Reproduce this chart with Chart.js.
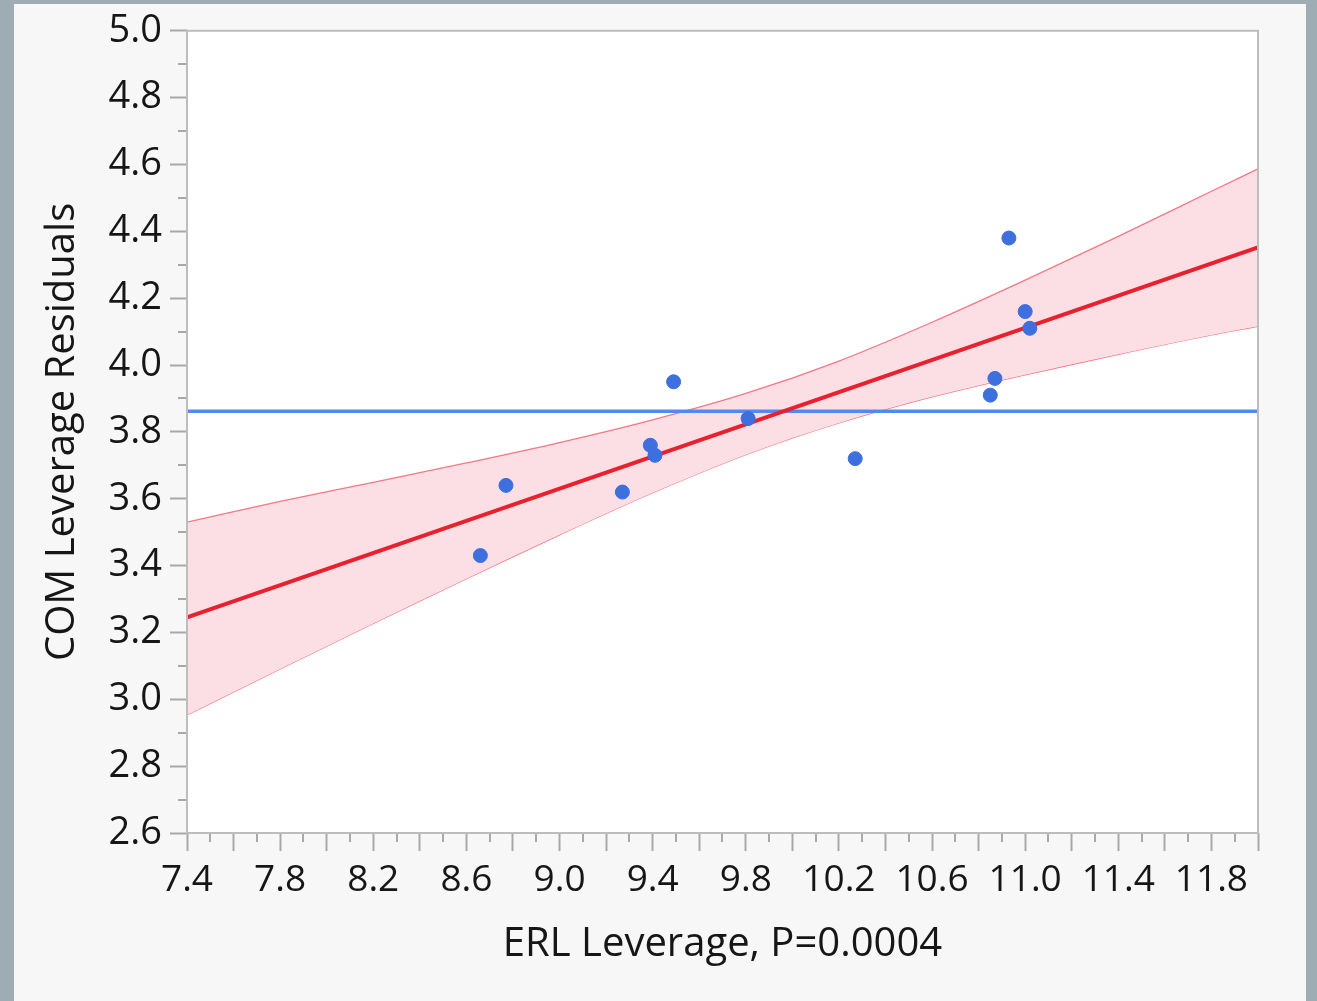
<!DOCTYPE html>
<html>
<head>
<meta charset="utf-8">
<script src="https://cdn.jsdelivr.net/npm/chart.js@4.4.1/dist/chart.umd.min.js"></script>
<style>
  body { margin: 0; background: #9dadb3; }
  #panel { position: absolute; left: 14px; top: 4px; width: 1292px; height: 997px; background: #f7f7f7; }
  #myChart { position: absolute; left: 0; top: 0; }
</style>
</head>
<body>
<div id="panel"></div>
<canvas id="myChart" width="1317" height="1001"></canvas>
<script>
// puntos (ERL leverage vs COM leverage residuals)
const erlX = [8.66, 8.77, 9.27, 9.39, 9.41, 9.49, 9.81, 10.27, 10.85, 10.87, 10.93, 11.00, 11.02];
const comY = [3.43, 3.64, 3.62, 3.76, 3.73, 3.95, 3.84, 3.72, 3.91, 3.96, 4.38, 4.16, 4.11];

// linea de la media
const meanY = 3.862;

// recta ajustada
const fitX = [7.4, 12.0];
const fitY = [3.245, 4.352];

// banda de confianza
const bandX = [7.4, 7.8, 8.2, 8.6, 9.0, 9.4, 9.8, 10.2, 10.6, 11.0, 11.4, 11.8, 12.0];
const bandUpper = [3.530, 3.592, 3.649, 3.707, 3.768, 3.836, 3.915, 4.012, 4.128, 4.254, 4.385, 4.520, 4.587];
const bandLower = [2.953, 3.091, 3.227, 3.361, 3.492, 3.618, 3.732, 3.827, 3.905, 3.971, 4.032, 4.090, 4.116];

// etiquetas de los ejes
const xTickLabels = ['7.4', '7.8', '8.2', '8.6', '9.0', '9.4', '9.8', '10.2', '10.6', '11.0', '11.4', '11.8'];
const yTickLabels = ['2.6', '2.8', '3.0', '3.2', '3.4', '3.6', '3.8', '4.0', '4.2', '4.4', '4.6', '4.8', '5.0'];

const toPts = (xs, ys) => xs.map((x, i) => ({ x: x, y: ys[i] }));

const FONT = "'Open Sans', 'Noto Sans', sans-serif";
const textColor = '#161616';
const tickGrey = '#a8a8a8';

// ticks cada 0.2 (los menores de 0.1 los pinta el plugin)
function majorTicks(min, max) {
  const out = [];
  for (let i = 0; min + i * 0.2 <= max + 1e-9; i++) {
    out.push({ value: Math.round((min + i * 0.2) * 10) / 10 });
  }
  return out;
}

//plugin para fondo blanco, marco y ticks menores
const framePlugin = {
  id: 'framePlugin',
  beforeDraw(chart) {
    const { ctx, chartArea: a } = chart;
    ctx.save();
    ctx.fillStyle = '#ffffff';
    ctx.fillRect(a.left, a.top, a.right - a.left, a.bottom - a.top);
    ctx.restore();
  },
  afterDraw(chart) {
    const { ctx, chartArea: a } = chart;
    const xs = chart.scales.x, ys = chart.scales.y;
    ctx.save();
    ctx.strokeStyle = tickGrey;
    ctx.lineWidth = 2;
    ctx.beginPath();
    for (let v = 7.5; v < 12.0; v += 0.2) {
      const px = Math.round(xs.getPixelForValue(v));
      ctx.moveTo(px, a.bottom);
      ctx.lineTo(px, a.bottom + 9);
    }
    for (let v = 2.7; v < 5.0; v += 0.2) {
      const py = Math.round(ys.getPixelForValue(v));
      ctx.moveTo(a.left, py);
      ctx.lineTo(a.left - 9, py);
    }
    ctx.stroke();
    ctx.strokeStyle = '#bdbdbd';
    ctx.lineWidth = 2;
    ctx.strokeRect(a.left, a.top, a.right - a.left, a.bottom - a.top);
    ctx.restore();
  }
};

const ctx = document.getElementById('myChart');
new Chart(ctx, {
  type: 'scatter',
  data: {
    datasets: [
      {
        label: 'puntos',
        data: toPts(erlX, comY),
        backgroundColor: '#3d6fde',
        borderColor: '#3d6fde',
        pointRadius: 7,
        order: 0
      },
      {
        label: 'ajuste',
        data: toPts(fitX, fitY),
        showLine: true,
        borderColor: '#e8212f',
        borderWidth: 4,
        pointRadius: 0,
        order: 1
      },
      {
        label: 'media',
        data: toPts([7.4, 12.0], [meanY, meanY]),
        showLine: true,
        borderColor: '#5289f5',
        borderWidth: 3.5,
        pointRadius: 0,
        order: 2
      },
      {
        label: 'superior',
        data: toPts(bandX, bandUpper),
        showLine: true,
        borderColor: 'rgba(238, 100, 115, 0.85)',
        borderWidth: 1.3,
        backgroundColor: '#fcdfe4',
        fill: '+1',
        pointRadius: 0,
        cubicInterpolationMode: 'monotone',
        order: 3
      },
      {
        label: 'inferior',
        data: toPts(bandX, bandLower),
        showLine: true,
        borderColor: 'rgba(238, 100, 115, 0.85)',
        borderWidth: 1.3,
        pointRadius: 0,
        cubicInterpolationMode: 'monotone',
        order: 4
      }
    ]
  },
  options: {
    responsive: false,
    animation: false,
    layout: { padding: { left: 20, top: 30, right: 59, bottom: 20 } },
    plugins: {
      legend: { display: false },
      tooltip: { enabled: false },
      filler: { propagate: false }
    },
    scales: {
      x: {
        type: 'linear',
        min: 7.4,
        max: 12.0,
        afterBuildTicks: (scale) => { scale.ticks = majorTicks(7.4, 12.0); },
        afterFit: (scale) => { scale.height = 148; },
        ticks: {
          autoSkip: false,
          maxRotation: 0,
          padding: 7,
          color: textColor,
          font: { family: FONT, size: 37 },
          callback: (v) => {
            const s = Number(v).toFixed(1);
            return xTickLabels.includes(s) ? s : '';
          }
        },
        grid: {
          drawOnChartArea: false,
          drawTicks: true,
          tickLength: 18,
          tickWidth: 2,
          tickColor: tickGrey
        },
        border: { display: false },
        title: {
          display: true,
          text: 'ERL Leverage, P=0.0004',
          color: textColor,
          font: { family: FONT, size: 40 },
          padding: { top: 0, bottom: 12 }
        }
      },
      y: {
        type: 'linear',
        min: 2.6,
        max: 5.0,
        afterBuildTicks: (scale) => { scale.ticks = majorTicks(2.6, 5.0); },
        afterFit: (scale) => { scale.width = 167; },
        ticks: {
          autoSkip: false,
          padding: 8,
          color: textColor,
          font: { family: FONT, size: 38 },
          callback: (v) => {
            const s = Number(v).toFixed(1);
            return yTickLabels.includes(s) ? s : '';
          }
        },
        grid: {
          drawOnChartArea: false,
          drawTicks: true,
          tickLength: 17,
          tickWidth: 2,
          tickColor: tickGrey
        },
        border: { display: false },
        title: {
          display: true,
          text: 'COM Leverage Residuals',
          color: textColor,
          font: { family: FONT, size: 40 },
          padding: { top: 19, bottom: 0 }
        }
      }
    }
  },
  plugins: [framePlugin]
});
</script>
</body>
</html>
